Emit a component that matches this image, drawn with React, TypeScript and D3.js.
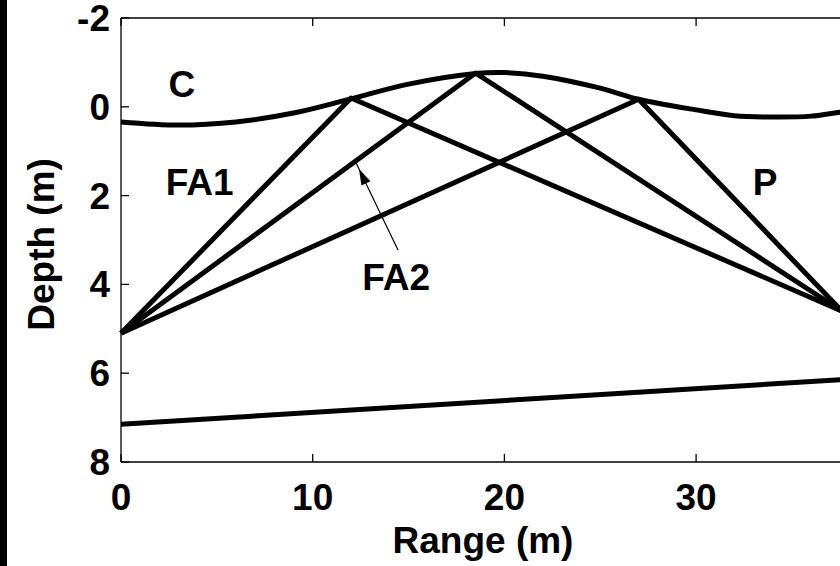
import React from 'react';
import * as d3 from 'd3';

// surface (C): range (m), depth (m)
const surfaceX = [0, 3, 6, 9, 12, 15, 18.5, 20, 22, 25, 27, 30, 32, 34, 36, 37.5, 40];
const surfaceD = [0.34, 0.41, 0.34, 0.14, -0.18, -0.51, -0.75, -0.77, -0.69, -0.42, -0.17, 0.07, 0.2, 0.23, 0.21, 0.12, 0.0];

// bottom line
const bottomX = [0, 40];
const bottomD = [7.15, 6.08];

// source / receiver and surface bounce points
const source = [0, 5.1];
const receiver = [37.6, 4.6];
const bounceX = [12, 18.5, 27];
const bounceD = [-0.2, -0.76, -0.17];

const xTicks = [0, 10, 20, 30];
const yTicks = [-2, 0, 2, 4, 6, 8];

const labels = [
  { text: 'C', x: 3.18, d: -0.22 },
  { text: 'FA1', x: 4.1, d: 1.99 },
  { text: 'P', x: 33.6, d: 1.99 },
  { text: 'FA2', x: 14.35, d: 4.13 },
];

export default function App() {
  const width = 840;
  const height = 566;
  const margin = { top: 18, left: 121, bottom: 104 };
  const x = d3.scaleLinear().domain([0, 40]).range([margin.left, margin.left + 4 * 191.7]);
  const y = d3.scaleLinear().domain([-2, 8]).range([margin.top, height - margin.bottom]);

  const curve = d3.line<number>().x((d, i) => x(surfaceX[i])).y((d) => y(d)).curve(d3.curveCatmullRom);
  const straight = d3.line<number[]>().x((d) => x(d[0])).y((d) => y(d[1]));

  const rays = bounceX.map((bx, i) => [source, [bx, bounceD[i]], receiver]);

  const font = "'Liberation Sans', Arial, sans-serif";
  const x0 = x(0);
  const x1 = x(40);
  const y0 = y(-2);
  const y1 = y(8);

  // FA2 arrow
  const ax0 = 398, ay0 = 250, ax1 = 359, ay1 = 169;
  const ang = Math.atan2(ay1 - ay0, ax1 - ax0);
  const hl = 16, hw = 5;
  const head = [
    [ax1, ay1],
    [ax1 - hl * Math.cos(ang) + hw * Math.sin(ang), ay1 - hl * Math.sin(ang) - hw * Math.cos(ang)],
    [ax1 - hl * Math.cos(ang) - hw * Math.sin(ang), ay1 - hl * Math.sin(ang) + hw * Math.cos(ang)],
  ];

  return (
    <svg width={width} height={height} style={{ position: 'absolute', left: 0, top: 0, background: '#fff' }}>
      <rect x={0} y={0} width={7} height={height} fill="#000" />
      <g fill="none" stroke="#000" strokeWidth={1.3}>
        <line x1={x0} x2={x1} y1={y0} y2={y0} />
        <line x1={x0} x2={x1} y1={y1} y2={y1} />
        <line x1={x0} x2={x0} y1={y0} y2={y1} />
        {xTicks.map((t) => (
          <g key={'x' + t}>
            <line x1={x(t)} x2={x(t)} y1={y1} y2={y1 - 8} />
            <line x1={x(t)} x2={x(t)} y1={y0} y2={y0 + 8} />
          </g>
        ))}
        {yTicks.map((t) => (
          <line key={'y' + t} x1={x0} x2={x0 + 8} y1={y(t)} y2={y(t)} />
        ))}
      </g>
      <g fontFamily={font} fontWeight="bold" fontSize={37} fill="#000">
        {xTicks.map((t) => (
          <text key={'xl' + t} x={x(t)} y={y1 + 48} textAnchor="middle">{t}</text>
        ))}
        {yTicks.map((t) => (
          <text key={'yl' + t} x={x0 - 11} y={y(t) + 13} textAnchor="end">{t}</text>
        ))}
        <text x={483} y={553} textAnchor="middle">Range (m)</text>
        <text transform={`translate(54,${y(3.1)}) rotate(-90)`} textAnchor="middle">Depth (m)</text>
        {labels.map((l) => (
          <text key={l.text} x={x(l.x)} y={y(l.d)} textAnchor="middle">{l.text}</text>
        ))}
      </g>
      <g fill="none" stroke="#000" strokeWidth={5} strokeLinejoin="round">
        <path d={curve(surfaceD) || ''} />
        <path d={straight(bottomX.map((bx, i) => [bx, bottomD[i]])) || ''} />
        {rays.map((r, i) => (
          <path key={i} d={straight(r) || ''} />
        ))}
      </g>
      <line x1={ax0} y1={ay0} x2={ax1 + 10 * Math.cos(ang)} y2={ay1 + 10 * Math.sin(ang)} stroke="#000" strokeWidth={1.2} />
      <polygon points={head.map((p) => p.join(',')).join(' ')} fill="#000" />
    </svg>
  );
}
